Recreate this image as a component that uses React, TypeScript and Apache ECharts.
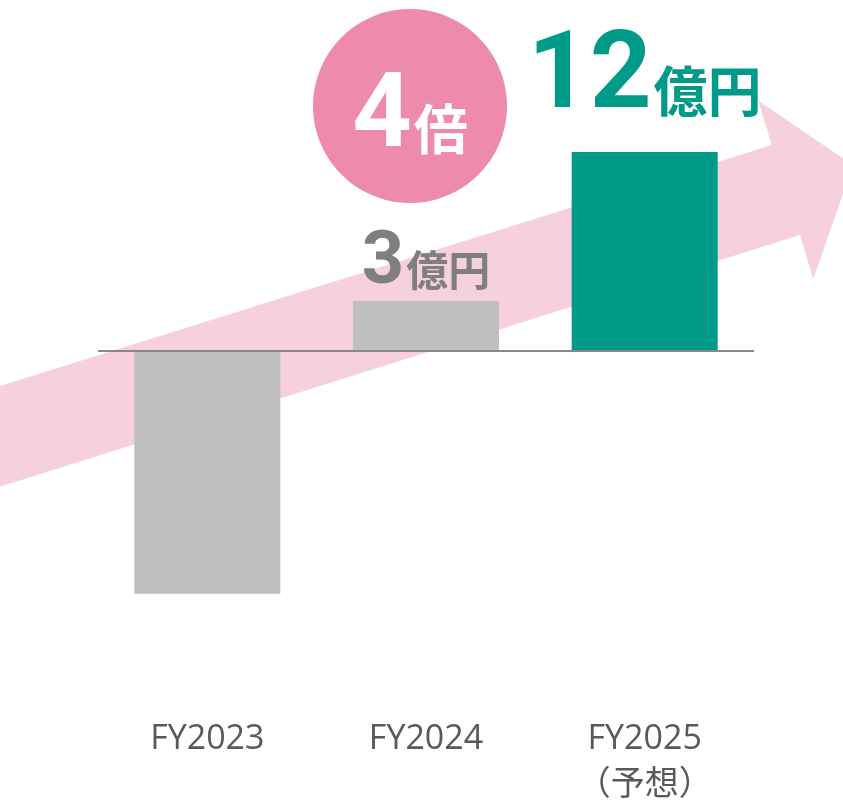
import React, { useEffect, useRef } from 'react';
import * as echarts from 'echarts';

const categories = ['FY2023', 'FY2024', 'FY2025\n（予想）'];
const values = [-14.7, 3, 12];
const unit = '億円';
const ratioSuffix = '倍';

export default function App() {
  const ref = useRef<HTMLDivElement>(null);
  useEffect(() => {
    const chart = echarts.init(ref.current!, null, { renderer: 'svg' });
    const font = '"Open Sans", "Noto Sans CJK JP", sans-serif';
    const numFont = 'Roboto, "Open Sans", sans-serif';
    const cjkFont = '"Noto Sans CJK JP", sans-serif';
    const last = values.length - 1;
    const ratio = Math.round(values[last] / values[last - 1]);
    const green = '#009b88';
    const grey = '#bfbfbf';
    const data = values.map((v, i) => {
      const isLast = i === last;
      return {
        value: v,
        itemStyle: { color: isLast ? green : grey },
        label:
          v > 0
            ? {
                show: true,
                position: 'top',
                distance: isLast ? 28 : 6,
                formatter: `{n|${v}}{u|${unit}}`,
                rich: {
                  n: {
                    fontSize: isLast ? 108 : 74,
                    fontWeight: 'bold',
                    fontFamily: numFont,
                    color: isLast ? green : '#7f7f7f',
                    verticalAlign: 'bottom',
                  },
                  u: {
                    fontSize: isLast ? 54 : 42,
                    fontWeight: 'bold',
                    fontFamily: cjkFont,
                    color: isLast ? green : '#7f7f7f',
                    verticalAlign: 'bottom',
                    padding: [0, 0, isLast ? 9 : 6, 2],
                  },
                },
              }
            : { show: false },
      };
    });

    chart.setOption({
      animation: false,
      grid: { left: 98, right: 89, top: 102.4, height: 578.9 },
      xAxis: {
        type: 'category',
        data: categories,
        axisLine: { show: false },
        axisTick: { show: false },
        axisLabel: {
          interval: 0,
          margin: 24.7,
          formatter: (val: string) =>
            val
              .split('\n')
              .map((s, i) => (i === 0 ? `{a|${s}}` : `{p|${s}}`))
              .join('\n'),
          rich: {
            a: {
              color: '#595959',
              fontSize: 34,
              lineHeight: 60,
              fontFamily: font,
            },
            p: {
              color: '#595959',
              fontSize: 34,
              lineHeight: 28,
              fontFamily: cjkFont,
            },
          },
        },
      },
      yAxis: {
        type: 'value',
        min: -20,
        max: 15,
        show: false,
        splitLine: { show: false },
      },
      graphic: [
        {
          type: 'polygon',
          z: 0,
          silent: true,
          shape: {
            points: [
              [-10, 389],
              [771.7, 145],
              [758.3, 100.7],
              [853, 165],
              [813.3, 279],
              [800, 235],
              [-10, 489.8],
            ],
          },
          style: { fill: '#f7d0dd' },
        },
        {
          type: 'circle',
          z: 10,
          silent: true,
          shape: { cx: 410, cy: 106, r: 97 },
          style: { fill: '#ee8bab' },
        },
        {
          type: 'text',
          z: 11,
          silent: true,
          x: 410,
          y: 162,
          style: {
            text: `{n|${ratio}}{u|${ratioSuffix}}`,
            align: 'center',
            verticalAlign: 'bottom',
            rich: {
              n: {
                fontSize: 104,
                fontWeight: 'bold',
                fontFamily: numFont,
                fill: '#ffffff',
                color: '#ffffff',
                verticalAlign: 'bottom',
              },
              u: {
                fontSize: 54,
                fontWeight: 'bold',
                fontFamily: cjkFont,
                fill: '#ffffff',
                color: '#ffffff',
                verticalAlign: 'bottom',
                padding: [0, 0, 9, 2],
              },
            },
          },
        },
      ],
      series: [
        {
          type: 'bar',
          data,
          barWidth: 146,
          z: 2,
          markLine: {
            silent: true,
            symbol: 'none',
            label: { show: false },
            lineStyle: { color: '#888888', width: 2, type: 'solid' },
            data: [{ yAxis: 0 }],
          },
        },
      ],
    });
    return () => chart.dispose();
  }, []);
  return (
    <div
      ref={ref}
      style={{ position: 'fixed', left: 0, top: 0, width: 843, height: 806 }}
    />
  );
}
